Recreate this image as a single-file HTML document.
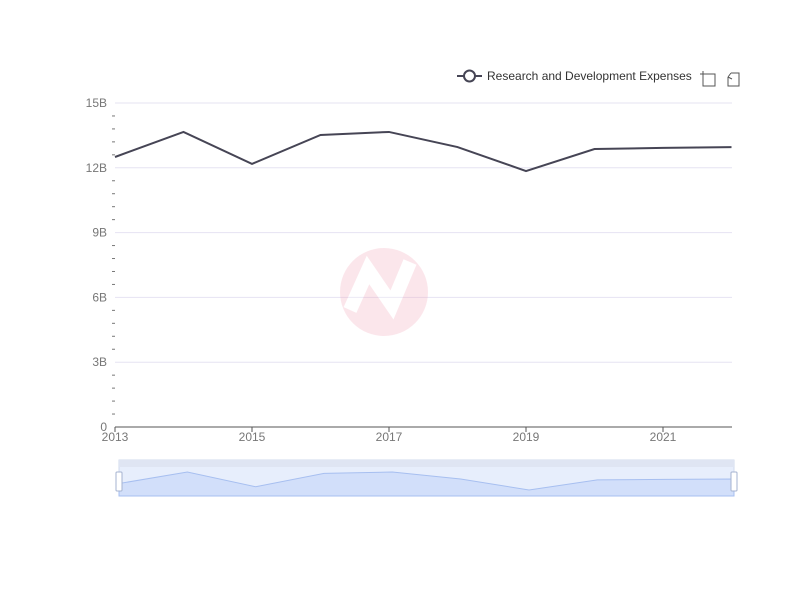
<!DOCTYPE html>
<html><head><meta charset="utf-8"><style>
body{margin:0;background:#fff;font-family:"Liberation Sans",sans-serif}
svg text{font-family:"Liberation Sans",sans-serif}
</style></head><body>
<svg id="c" width="800" height="600" xmlns="http://www.w3.org/2000/svg">
<g id="grid"></g><g id="axes"></g>
<g opacity="0.25">
<circle cx="384" cy="292" r="44" fill="#f3a0b4"/>
<path d="M350,310 L368,270 L392,305 L410,262" stroke="#fff" stroke-width="14" fill="none"/>
</g>
<path id="line" fill="none" stroke="#464555" stroke-width="2"/>
<g>
<line x1="457" y1="76" x2="482" y2="76" stroke="#464555" stroke-width="2"/>
<circle cx="469.5" cy="76" r="5.5" fill="#fff" stroke="#464555" stroke-width="2"/>
<text x="487" y="80" font-size="12" fill="#333">Research and Development Expenses</text>
</g>
<g stroke="#555" fill="none" stroke-width="1">
<path d="M703,74 V86 H715 V74 H706 M700,74 H706 M703,71 V77"/></g>
<g stroke="#555" fill="none" stroke-width="1">
<path d="M731,73 H739 V86 H728 V77 M728,77 L731,73 M728,77 L732,79"/></g>
<g>
<rect x="119" y="460" width="615" height="36" fill="#e7eefc" stroke="#d2dbee"/>
<rect x="119" y="460" width="615" height="7" fill="#dfe5f3"/>
<path id="mini" fill="#d2dffa" stroke="#a7bff0"/>
<rect x="116" y="472" width="6" height="19" rx="1" fill="#fff" stroke="#a5b3d0"/>
<rect x="731" y="472" width="6" height="19" rx="1" fill="#fff" stroke="#a5b3d0"/>
</g>
</svg>
<script>
const years=[2013,2014,2015,2016,2017,2018,2019,2020,2021,2022];
const values=[12.5,13.66,12.18,13.52,13.66,12.96,11.85,12.87,12.92,12.96];
const yTicks=[0,3,6,9,12,15];
const yTickLabels=["0","3B","6B","9B","12B","15B"];
const xTickYears=[2013,2015,2017,2019,2021];
const NS="http://www.w3.org/2000/svg";
const X=y=>115+(y-2013)*68.5;
const Y=v=>427-v*21.6;
const MX=y=>119+(y-2013)*615/9;
const MY=v=>496-(v-11.25)*29/2.91;
function el(t,a,p){const e=document.createElementNS(NS,t);for(const k in a)e.setAttribute(k,a[k]);document.getElementById(p).appendChild(e);return e;}
yTicks.forEach((v,i)=>{
 if(v>0){const g=el('line',{x1:115,x2:732,y1:Y(v),y2:Y(v),stroke:'#e6e3f2'},'grid');
 
 }
 const t=el('text',{x:107,y:Y(v)+4,'font-size':12,fill:'#777','text-anchor':'end'},'axes');
 
 
 t.textContent=yTickLabels[i];
});
for(let v=0.6;v<15;v+=0.6){if(Math.abs(v/3-Math.round(v/3))<0.01)continue;
 const m=el('line',{x1:112,x2:115,y1:Y(v),y2:Y(v),stroke:'#777'},'axes');
 
 }
const ax=el('line',{x1:115,x2:732,y1:427,y2:427,stroke:'#555'},'axes');


xTickYears.forEach(y=>{
 const tk=el('line',{x1:X(y),x2:X(y),y1:427,y2:432,stroke:'#555'},'axes');
 
 
 const t=el('text',{x:X(y),y:441,'font-size':12,fill:'#777','text-anchor':'middle'},'axes');
 
 
 t.textContent=y;
});
document.getElementById('line').setAttribute('d',years.map((y,i)=>(i?'L':'M')+X(y)+','+Y(values[i])).join(''));
document.getElementById('mini').setAttribute('d','M'+MX(2013)+',496'+years.map((y,i)=>'L'+MX(y)+','+MY(values[i])).join('')+'L'+MX(2022)+',496Z');
</script>
</body></html>
